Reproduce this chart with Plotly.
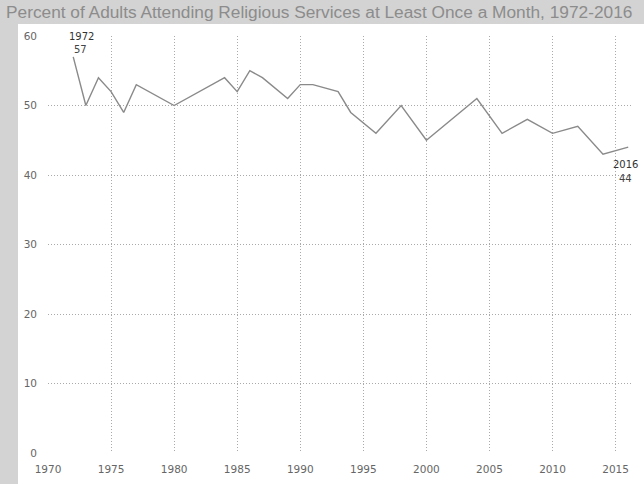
import plotly.graph_objects as go

years = [1972, 1973, 1974, 1975, 1976, 1977, 1980, 1984, 1985, 1986, 1987, 1989,
         1990, 1991, 1993, 1994, 1996, 1998, 2000, 2004, 2006, 2008, 2010, 2012,
         2014, 2016]
percent = [57, 50, 54, 52, 49, 53, 50, 54, 52, 55, 54, 51,
           53, 53, 52, 49, 46, 50, 45, 51, 46, 48, 46, 47,
           43, 44]
x_ticks = [1970, 1975, 1980, 1985, 1990, 1995, 2000, 2005, 2010, 2015]
y_ticks = [0, 10, 20, 30, 40, 50, 60]
title = "Percent of Adults Attending Religious Services at Least Once a Month, 1972-2016"

fig = go.Figure()
fig.add_trace(go.Scatter(x=years, y=percent, mode="lines",
                         line=dict(color="#8a8a8a", width=1.4),
                         hoverinfo="x+y", showlegend=False))

fig.add_annotation(x=years[0], y=percent[0], text="1972", showarrow=False,
                   xanchor="center", yanchor="bottom", xshift=8, yshift=13,
                   font=dict(family="DejaVu Sans", size=10, color="#333"))
fig.add_annotation(x=years[0], y=percent[0], text="57", showarrow=False,
                   xanchor="center", yanchor="bottom", xshift=7, yshift=0,
                   font=dict(family="DejaVu Sans", size=10, color="#444"))
fig.add_annotation(x=years[-1], y=percent[-1], text="2016", showarrow=False,
                   xanchor="right", yanchor="top", xshift=12, yshift=-10,
                   font=dict(family="DejaVu Sans", size=10, color="#333"))
fig.add_annotation(x=years[-1], y=percent[-1], text="44", showarrow=False,
                   xanchor="right", yanchor="top", xshift=6, yshift=-24,
                   font=dict(family="DejaVu Sans", size=10, color="#444"))

# grey frame: top band and left strip
fig.add_shape(type="rect", xref="paper", yref="paper", x0=-48/584, x1=1+12/584,
              y0=1+12/417, y1=1+36/417, fillcolor="#d3d3d3", line_width=0, layer="below")
fig.add_shape(type="rect", xref="paper", yref="paper", x0=-48/584, x1=-30/584,
              y0=-31/417, y1=1+12/417, fillcolor="#d3d3d3", line_width=0, layer="below")

fig.add_annotation(xref="paper", yref="paper", x=-44/584, y=1+36/417, text=title,
                   showarrow=False, xanchor="left", yanchor="top",
                   font=dict(family="Liberation Sans", size=17.3, color="#8c8c8c"))

grid = dict(showgrid=True, gridcolor="#aaaaaa", griddash="1px,2px", gridwidth=1,
            zeroline=False, showline=False, ticks="", automargin=False)
fig.update_xaxes(range=[1970, 2016.3], tickvals=x_ticks, ticklabelstandoff=8,
                 tickfont=dict(family="DejaVu Sans", size=10.5, color="#666"), **grid)
fig.update_yaxes(range=[0, 60], tickvals=y_ticks, ticklabelstandoff=10,
                 tickfont=dict(family="DejaVu Sans", size=10.5, color="#666"), **grid)

fig.update_layout(width=644, height=484, margin=dict(l=48, r=12, t=36, b=31),
                  paper_bgcolor="white", plot_bgcolor="white")

fig.write_html("out.html", config={"displayModeBar": False},
               post_script="document.body.style.margin='0';document.body.style.overflow='hidden';")
